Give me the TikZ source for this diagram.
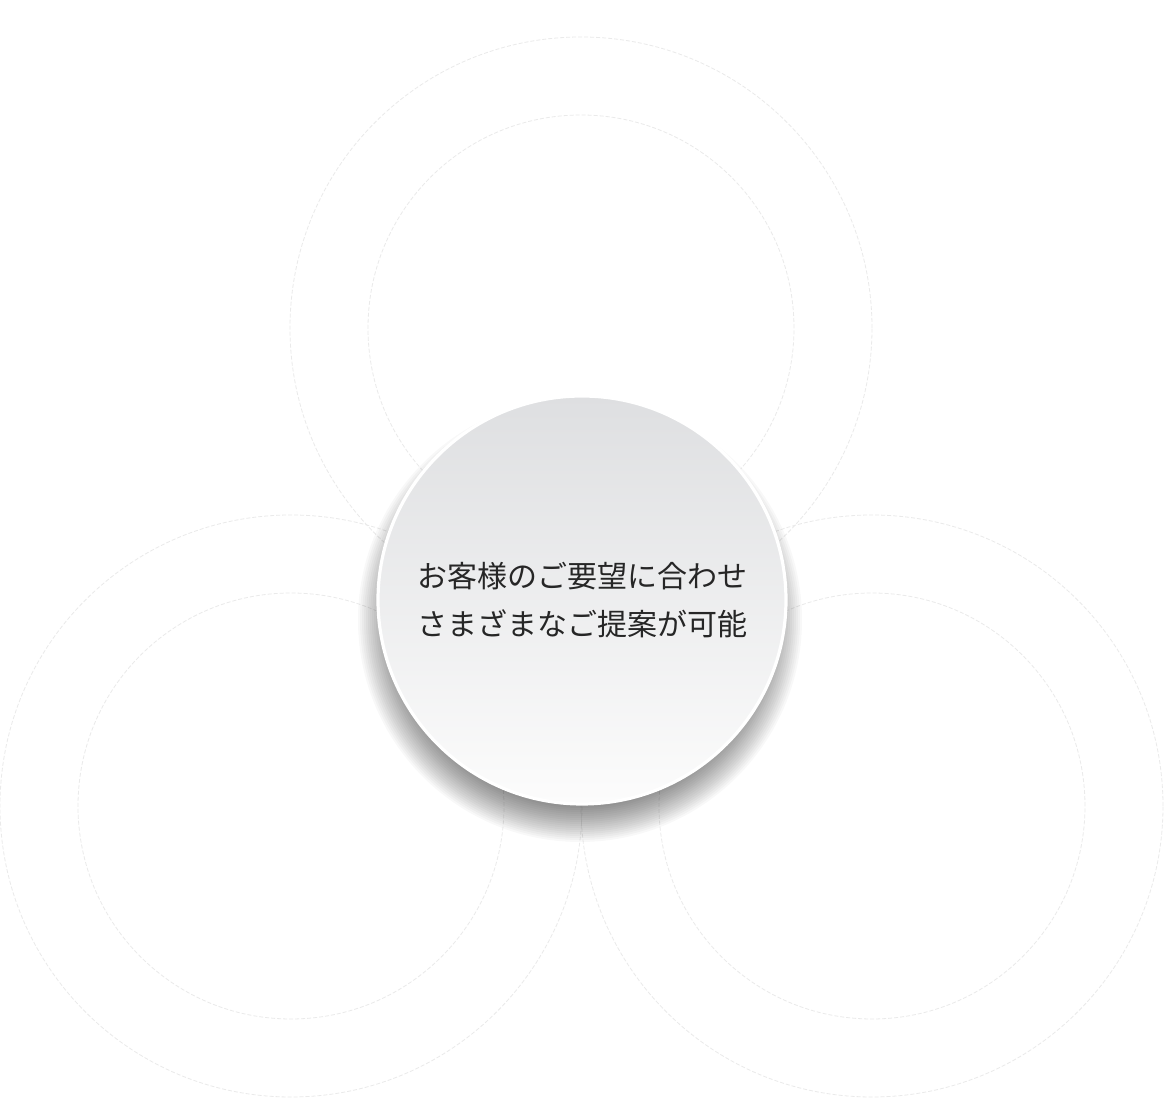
\documentclass[tikz,border=0pt]{standalone}
\usepackage{fontspec}
\newfontfamily\jpfont{Noto Sans CJK JP}
\definecolor{ringgray}{RGB}{234,234,234}
\definecolor{disctop}{RGB}{222,223,225}
\definecolor{discbottom}{RGB}{252,252,252}
\definecolor{textdark}{RGB}{38,38,38}

\begin{document}
\begin{tikzpicture}[
    x=0.5pt, y=0.5pt,
    ring_outer/.style={circle, draw=ringgray, line width=0.4pt, dash pattern=on 2pt off 1pt, minimum size=291pt, inner sep=0pt},
    ring_inner/.style={circle, draw=ringgray, line width=0.4pt, dash pattern=on 2pt off 1pt, minimum size=213pt, inner sep=0pt},
    disc/.style={circle, draw=white, line width=1.6pt, minimum size=204pt, inner sep=0pt,
        top color=disctop, bottom color=discbottom,
        font=\jpfont\fontsize{15pt}{24pt}\selectfont, text=textdark, align=center},
    shadow_layer/.style={fill=black, opacity=0.027}
]
    % canvas
    \useasboundingbox[fill=white] (0,0) rectangle (1164,1114);

    % three pairs of faint rings
    \node[ring_outer] (top_outer) at (581,786) {};
    \node[ring_inner] (top_inner) at (581,786) {};
    \node[ring_outer] (left_outer) at (291,308) {};
    \node[ring_inner] (left_inner) at (291,308) {};
    \node[ring_outer] (right_outer) at (872,308) {};
    \node[ring_inner] (right_inner) at (872,308) {};

    % soft drop shadow under the disc
    \coordinate (disc_c) at (582,514);
    \foreach \k in {0,...,18}
        \fill[shadow_layer] ([xshift=-1pt, yshift=-10pt]disc_c) circle ({222-2*\k});

    % centre disc
    \node[disc] (centre_disc) at (disc_c) {お客様のご要望に合わせ\\さまざまなご提案が可能};

\end{tikzpicture}
\end{document}
